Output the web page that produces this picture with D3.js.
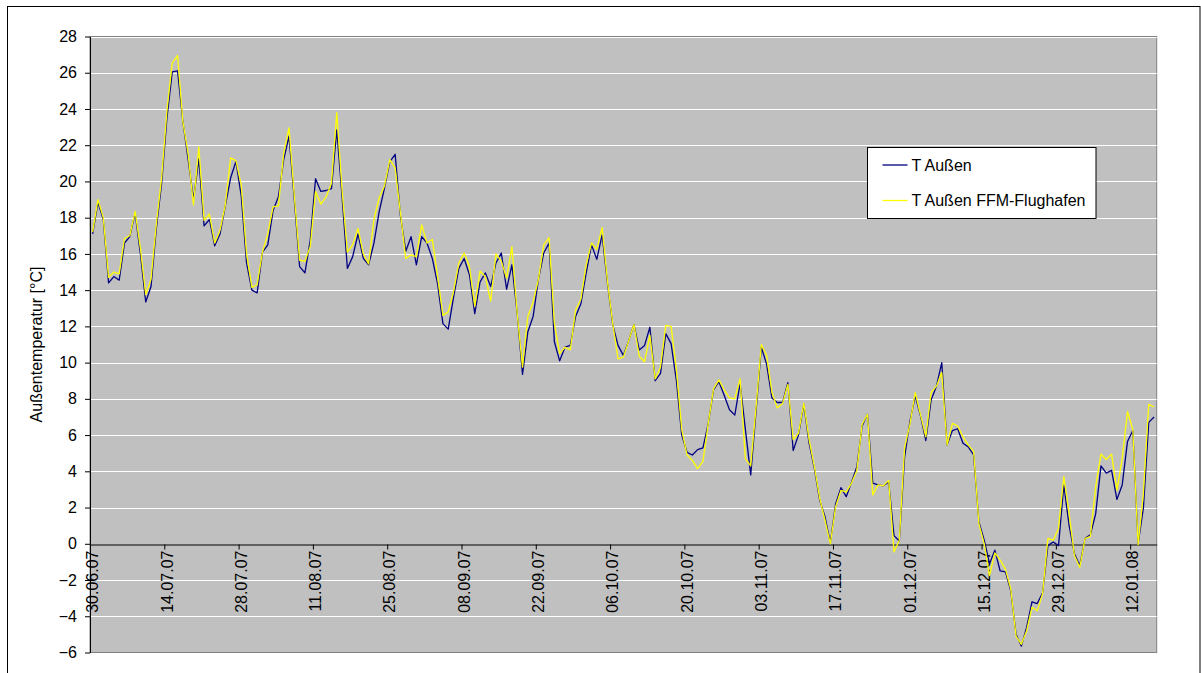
<!DOCTYPE html>
<html>
<head>
<meta charset="utf-8">
<script src="https://cdn.jsdelivr.net/npm/d3@7"></script>
<style>
  html, body { margin: 0; padding: 0; background: #fff; }
  svg { display: block; font-family: "Liberation Sans", Arial, sans-serif; }
</style>
</head>
<body>
<svg id="chart" width="1201" height="673"></svg>
<script>
// Daily outdoor temperatures, 30.06.2007 - 16.01.2008 (201 days)
const tickLabels = ["30.06.07","14.07.07","28.07.07","11.08.07","25.08.07","08.09.07","22.09.07",
  "06.10.07","20.10.07","03.11.07","17.11.07","01.12.07","15.12.07","29.12.07","12.01.08"];
const dayCount = 201;
const labelEvery = 14;

const seriesNames = ["T Außen", "T Außen FFM-Flughafen"];
const seriesColors = ["#000080", "#ffff00"];

const tAussen = [
  17.1,18.85,17.9,14.4,14.75,14.55,16.6,16.95,18.25,16.0,
  13.35,14.2,17.4,19.9,23.5,26.05,26.1,23.3,21.2,19.0,
  21.25,17.55,17.9,16.45,17.1,18.65,20.2,21.1,19.2,15.5,
  14.0,13.85,16.1,16.5,18.4,19.15,21.2,22.5,19.0,15.3,
  14.95,16.75,20.15,19.45,19.5,19.6,22.85,19.15,15.2,15.85,
  17.1,15.75,15.4,16.6,18.35,19.65,21.1,21.5,18.1,16.15,
  16.95,15.4,16.95,16.6,15.75,14.35,12.15,11.85,13.6,15.2,
  15.75,14.85,12.7,14.45,14.95,14.2,15.5,16.05,14.05,15.4,
  12.7,9.35,11.7,12.55,14.6,16.05,16.6,11.15,10.1,10.85,
  10.95,12.55,13.25,14.95,16.5,15.7,17.05,14.4,12.1,10.95,
  10.4,11.2,12.1,10.7,10.95,11.95,9.0,9.4,11.6,11.05,
  9.0,6.0,5.05,4.9,5.2,5.3,6.65,8.5,8.95,8.2,
  7.4,7.1,8.85,6.3,3.8,7.3,10.85,9.9,8.05,7.8,
  7.8,8.9,5.15,6.0,7.7,5.55,4.15,2.4,1.5,0.05,
  2.2,3.1,2.6,3.4,4.25,6.5,7.15,3.35,3.25,3.2,
  3.4,0.45,0.15,4.8,6.75,8.15,7.05,5.7,7.95,8.7,
  10.0,5.45,6.25,6.35,5.55,5.35,4.9,1.2,0.2,-1.1,
  -0.35,-1.5,-1.55,-2.6,-5.0,-5.65,-4.6,-3.2,-3.3,-2.7,
  -0.1,0.1,-0.1,3.25,1.0,-0.55,-1.2,0.3,0.5,1.65,
  4.3,3.9,4.05,2.45,3.25,5.65,6.25,0.0,2.0,6.7,
  7.0
];

const tAussenFFM = [
  17.2,19.0,18.0,14.7,15.0,14.9,16.85,17.0,18.35,16.3,
  13.75,14.6,17.65,20.2,23.9,26.55,26.95,23.3,21.5,18.7,
  21.9,17.85,18.2,16.6,17.3,18.7,21.3,21.15,19.8,16.0,
  14.15,14.3,16.1,17.1,18.6,18.65,21.55,22.95,19.2,15.65,
  15.6,16.4,19.45,18.75,19.15,19.9,23.8,19.5,16.1,16.5,
  17.4,16.0,15.45,17.9,19.1,19.75,21.2,20.75,18.25,15.75,
  15.95,15.85,17.6,16.6,16.8,14.75,12.6,12.8,13.9,15.5,
  16.05,15.3,13.1,15.05,14.75,13.4,16.0,15.6,14.65,16.4,
  12.7,9.75,12.55,13.35,14.6,16.5,16.9,12.15,10.5,10.85,
  10.7,12.9,13.5,15.4,16.6,16.25,17.45,14.5,12.15,10.2,
  10.3,11.2,12.1,10.35,10.05,11.5,9.1,9.75,12.05,12.0,
  9.6,6.3,4.9,4.6,4.15,4.55,6.65,8.55,9.05,8.5,
  8.05,8.0,9.1,4.7,4.3,7.5,11.0,10.4,8.35,7.5,
  7.75,8.8,5.75,6.1,7.75,5.75,4.25,2.5,1.3,0.0,
  2.05,2.95,2.85,3.35,4.05,6.6,7.15,2.7,3.25,3.2,
  3.5,-0.45,0.2,5.3,6.6,8.35,7.1,5.9,8.35,8.7,
  9.45,5.45,6.65,6.5,5.9,5.45,5.1,1.1,0.0,-1.75,
  -0.5,-0.9,-1.4,-2.5,-5.1,-5.55,-4.8,-3.5,-3.7,-2.75,
  0.3,0.2,0.85,3.7,1.65,-0.65,-1.3,0.3,0.4,3.15,
  4.95,4.65,4.95,2.95,4.7,7.3,6.3,-0.05,2.8,7.7,
  7.55
];

const yTicks = d3.range(-6, 29, 2);
const fontSize = "16px";

const svg = d3.select("#chart");
const W = 1201, H = 673;
const plot = { left: 90, right: 1156.7, top: 36.5, bottom: 652.5 };

// outer chart frame
svg.append("rect")
  .attr("x", 7.5).attr("y", 6.5)
  .attr("width", W - 8.5).attr("height", H + 10)
  .attr("fill", "#fff").attr("stroke", "#000").attr("stroke-width", 1);

// category boundaries (linear) and category centres
const xb = d3.scaleLinear().domain([0, dayCount]).range([plot.left, plot.right]);
const xc = i => xb(i + 0.5);
const y = d3.scaleLinear().domain([-6, 28]).range([plot.bottom, plot.top]);

// plot background
svg.append("rect")
  .attr("x", plot.left).attr("y", plot.top)
  .attr("width", plot.right - plot.left).attr("height", plot.bottom - plot.top)
  .attr("fill", "#c0c0c0").attr("stroke", "#808080").attr("stroke-width", 1);

// horizontal gridlines
svg.append("g")
  .selectAll("line")
  .data(yTicks.filter(v => v !== 0 && v !== -6))
  .join("line")
  .attr("x1", plot.left).attr("x2", plot.right)
  .attr("y1", d => Math.round(y(d)) + 0.5).attr("y2", d => Math.round(y(d)) + 0.5)
  .attr("stroke", "#ffffff").attr("stroke-width", 1.2);

// value axis
const yAxis = svg.append("g")
  .attr("transform", `translate(${plot.left},0)`)
  .call(d3.axisLeft(y).tickValues(yTicks).tickSize(5).tickPadding(8).tickSizeOuter(0));
yAxis.select(".domain").attr("stroke", "#000");
yAxis.selectAll(".tick line").attr("stroke", "#000");
yAxis.selectAll("text").attr("font-size", fontSize).attr("fill", "#000")
  .attr("font-family", "Liberation Sans, Arial, sans-serif");

// category axis at zero: tick marks on category boundaries
const zeroY = Math.round(y(0)) + 0.5;
const labelIdx = d3.range(0, dayCount, labelEvery);
const xAxis = svg.append("g")
  .attr("transform", `translate(0,${zeroY})`)
  .call(d3.axisBottom(xb).tickValues(labelIdx).tickSize(5).tickSizeOuter(0).tickFormat(""));
xAxis.select(".domain").attr("stroke", "#404040").attr("stroke-width", 1.3);
xAxis.selectAll(".tick line").attr("stroke", "#000");

// category labels centred on their category
svg.append("g")
  .selectAll("text")
  .data(labelIdx)
  .join("text")
  .attr("transform", i => `translate(${xc(i)},${zeroY}) rotate(-90)`)
  .attr("x", -6).attr("dy", "0.35em")
  .attr("text-anchor", "end")
  .attr("font-size", fontSize).attr("fill", "#000")
  .text((i, k) => tickLabels[k]);

// value axis title
svg.append("text")
  .attr("transform", `translate(36,${(plot.top + plot.bottom) / 2}) rotate(-90)`)
  .attr("dy", "0.35em")
  .attr("text-anchor", "middle")
  .attr("font-size", fontSize).attr("fill", "#000")
  .text("Außentemperatur [°C]");

// series lines
const line = d3.line().x((d, i) => xc(i)).y(d => y(d));
[tAussen, tAussenFFM].forEach((vals, s) => {
  svg.append("path")
    .datum(vals)
    .attr("d", line)
    .attr("fill", "none")
    .attr("stroke", seriesColors[s])
    .attr("stroke-width", 1.3)
    .attr("stroke-linejoin", "round");
});

// legend
const lg = svg.append("g");
lg.append("rect")
  .attr("x", 867.5).attr("y", 147.5).attr("width", 228.5).attr("height", 71)
  .attr("fill", "#fff").attr("stroke", "#000").attr("stroke-width", 1);
const legendRowY = [165, 200.5];
seriesNames.forEach((name, s) => {
  lg.append("line")
    .attr("x1", 882.5).attr("x2", 907.5)
    .attr("y1", legendRowY[s]).attr("y2", legendRowY[s])
    .attr("stroke", seriesColors[s]).attr("stroke-width", 1.3);
  lg.append("text")
    .attr("x", 911.5).attr("y", legendRowY[s]).attr("dy", "0.35em")
    .attr("font-size", fontSize).attr("fill", "#000")
    .text(name);
});
</script>
</body>
</html>
